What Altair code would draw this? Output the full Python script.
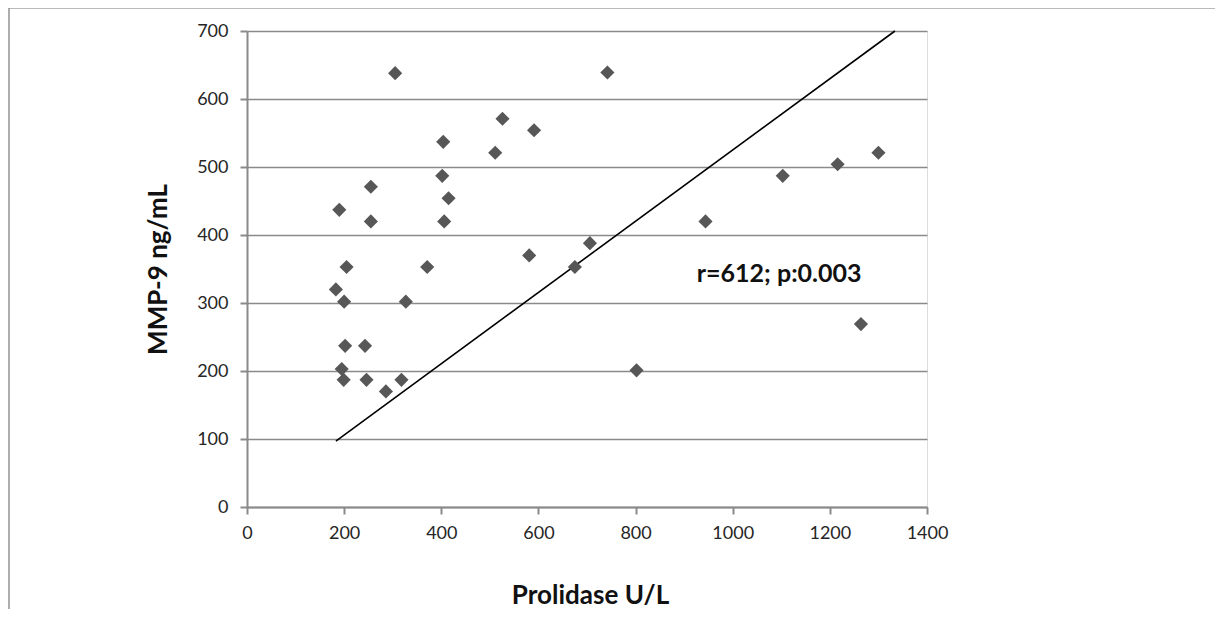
import altair as alt
import pandas as pd

# Scatter data
prolidase = [183, 190, 200, 202, 195, 199, 205, 243, 246, 255, 255, 286, 305, 318, 327,
             371, 402, 406, 415, 404, 511, 526, 581, 591, 675, 706, 742, 802, 944, 1103,
             1216, 1264, 1300]
mmp9 = [320, 437, 302, 237, 203, 187, 353, 237, 187, 471, 420, 170, 638, 187, 302,
        353, 487, 420, 454, 537, 521, 571, 370, 554, 353, 388, 639, 201, 420, 487,
        504, 269, 521]

# Fitted line end points
fit_x = [183, 1334]
fit_y = [97, 700]

annotation = "r=612; p:0.003"
x_ticks = [0, 200, 400, 600, 800, 1000, 1200, 1400]
y_ticks = [0, 100, 200, 300, 400, 500, 600, 700]

pts = pd.DataFrame({"x": prolidase, "y": mmp9})
fit = pd.DataFrame({"x": fit_x, "y": fit_y})
ann = pd.DataFrame({"x": [926], "y": [331], "t": [annotation]})
one = pd.DataFrame({"a": [0]})

FONT = "Lato"
GRAY = "#8a8a8a"

xscale = alt.Scale(domain=[0, 1400], nice=False, zero=False)
yscale = alt.Scale(domain=[0, 700], nice=False, zero=False)

xaxis = alt.Axis(values=x_ticks, grid=False, title="Prolidase U/L", format="d",
                 titleFont=FONT, titleFontSize=26, titleFontWeight="bold", titleColor="#111",
                 titleX=343, titleY=96, titleBaseline="alphabetic", titleAlign="center",
                 labelFont=FONT, labelFontSize=18, labelColor="#262626", labelPadding=10,
                 tickSize=7, tickColor=GRAY, tickWidth=2, domainColor=GRAY, domainWidth=2,
                 labelFlush=False)
yaxis = alt.Axis(values=y_ticks, grid=True, gridColor=GRAY, gridWidth=1.6, format="d",
                 title="MMP-9 ng/mL",
                 titleFont=FONT, titleFontSize=26, titleFontWeight="bold", titleColor="#111",
                 titleX=-81, titleY=238, titleBaseline="alphabetic", titleAlign="center",
                 titleAngle=-90,
                 labelFont=FONT, labelFontSize=18, labelColor="#262626", labelPadding=12,
                 tickSize=7, tickColor=GRAY, tickWidth=2, domainColor=GRAY, domainWidth=2,
                 labelFlush=False)

points = alt.Chart(pts).mark_point(shape="diamond", filled=True, size=200,
                                   color="#575757", opacity=1).encode(
    x=alt.X("x:Q", scale=xscale, axis=xaxis),
    y=alt.Y("y:Q", scale=yscale, axis=yaxis),
)

line = alt.Chart(fit).mark_line(color="#000000", strokeWidth=1.6).encode(
    x=alt.X("x:Q", scale=xscale),
    y=alt.Y("y:Q", scale=yscale),
)

text = alt.Chart(ann).mark_text(font=FONT, fontSize=25, fontWeight="bold",
                                align="left", baseline="alphabetic", color="#111").encode(
    x=alt.X("x:Q", scale=xscale),
    y=alt.Y("y:Q", scale=yscale),
    text="t:N",
)

frame_top = alt.Chart(one).mark_rule(color="#777777", strokeWidth=1.2).encode(
    x=alt.value(-238), x2=alt.value(968), y=alt.value(-23))
frame_left = alt.Chart(one).mark_rule(color="#777777", strokeWidth=1.2).encode(
    x=alt.value(-238), y=alt.value(-23), y2=alt.value(578))

chart = alt.layer(frame_top, frame_left, line, points, text).properties(
    width=680, height=476,
    autosize=alt.AutoSizeParams(type="none"),
    padding={"left": 239, "top": 23, "right": 288, "bottom": 102},
).configure_view(stroke=None).configure(background="white")

chart.save("out.html", embed_options={"renderer": "svg", "actions": False})
